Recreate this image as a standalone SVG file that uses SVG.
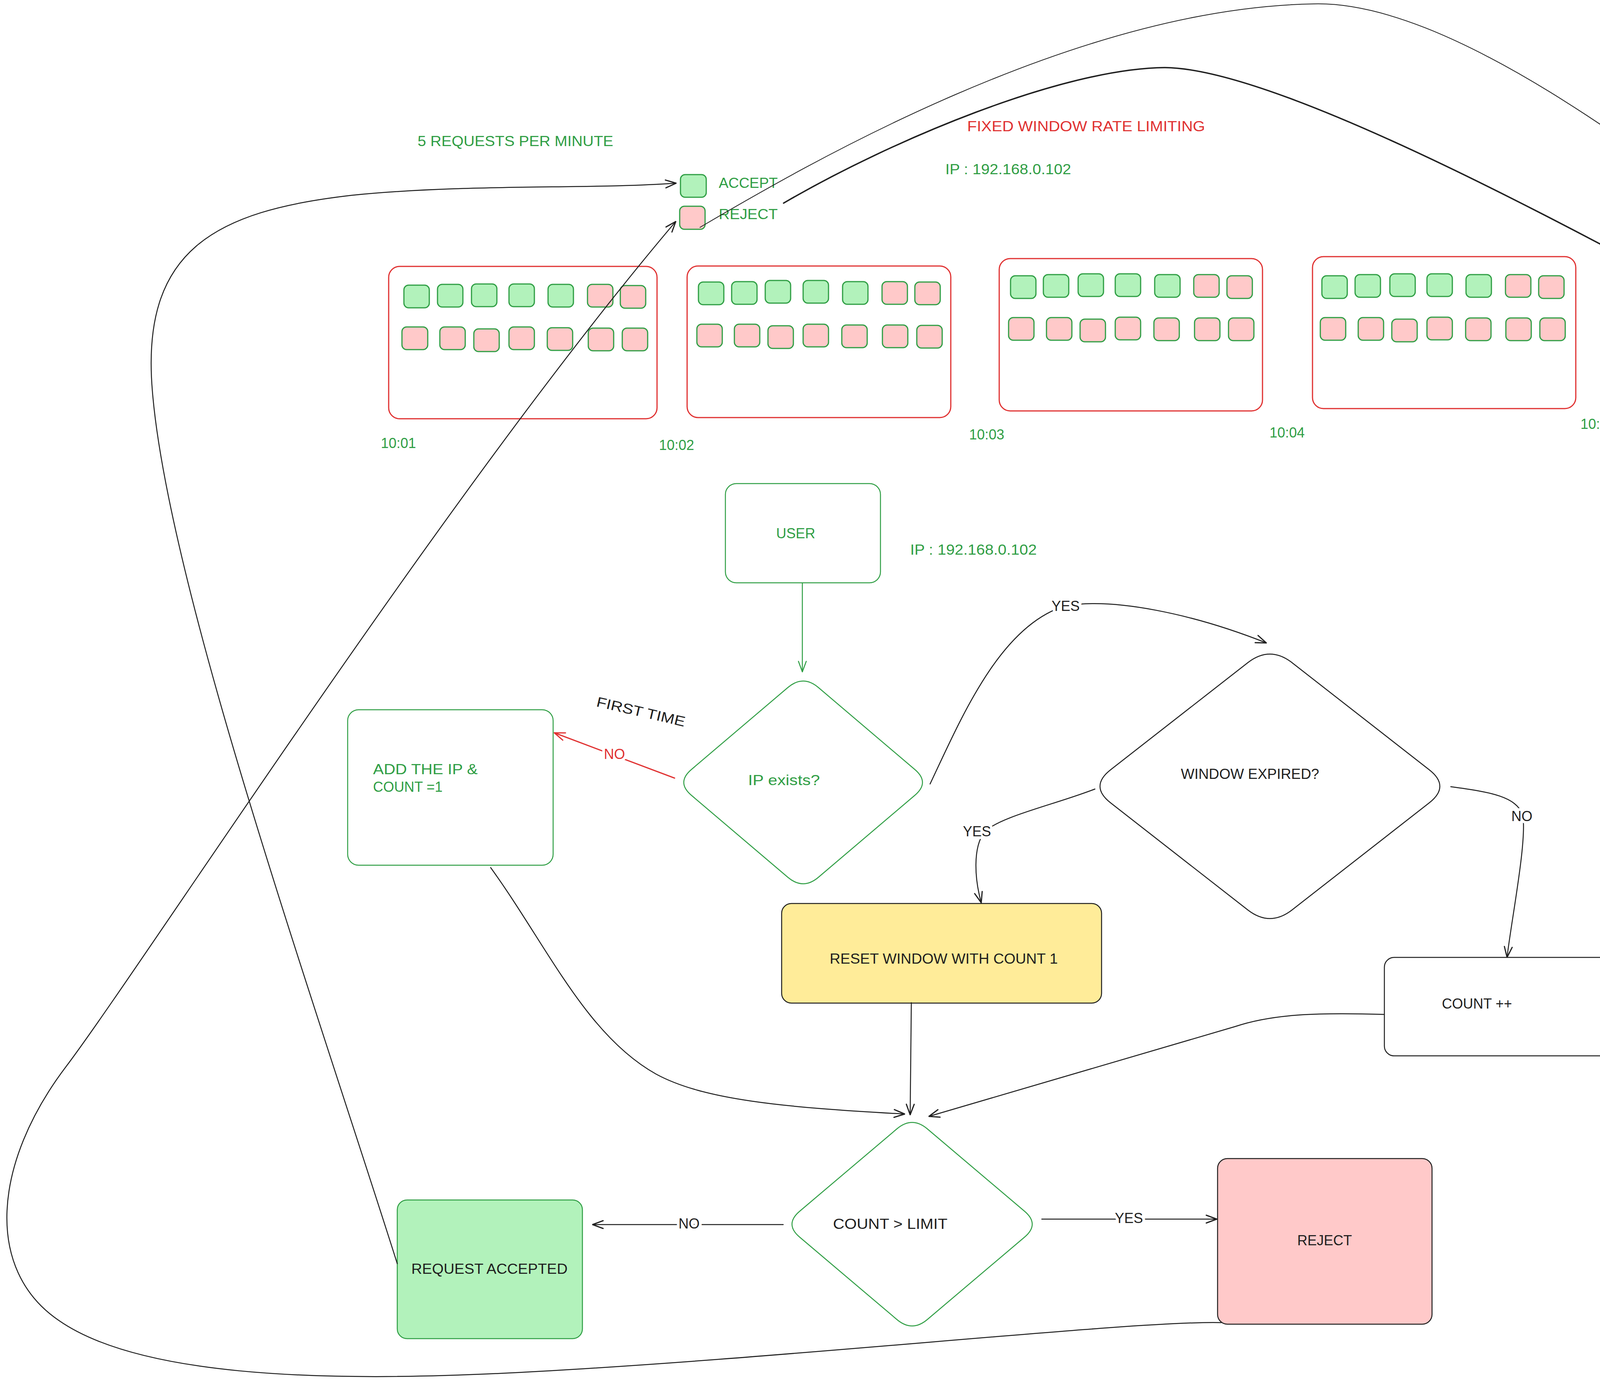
<svg xmlns="http://www.w3.org/2000/svg" width="4975" height="3538" viewBox="0 0 4975 3538">
<defs>
<style>
.t{font-family:"Liberation Sans",Arial,sans-serif;font-size:36px}
.tg{fill:#2f9e44}
.tr{fill:#e03131}
.tk{fill:#1e1e1e}
.sq{stroke:#2f9e44;stroke-width:3}
.ok{fill:#b2f2bb}
.no{fill:#ffc9c9}
.win{fill:none;stroke:#e03131;stroke-width:3}
.gbox{fill:#ffffff;stroke:#2f9e44;stroke-width:2.5}
.kbox{stroke:#1e1e1e;stroke-width:2.5}
.c{fill:none;stroke:#1e1e1e;stroke-width:2.5;stroke-linecap:round}
.lbl{stroke:#ffffff;stroke-width:14px;paint-order:stroke;stroke-linejoin:round}
</style>
<marker id="ak" viewBox="0 0 30 24" refX="29" refY="12" markerWidth="30" markerHeight="24" markerUnits="userSpaceOnUse" orient="auto"><path d="M2,2 L29,12 L2,22" fill="none" stroke="#1e1e1e" stroke-width="3" stroke-linecap="round" stroke-linejoin="round"/></marker>
<marker id="ag" viewBox="0 0 30 24" refX="29" refY="12" markerWidth="30" markerHeight="24" markerUnits="userSpaceOnUse" orient="auto"><path d="M2,2 L29,12 L2,22" fill="none" stroke="#2f9e44" stroke-width="2.5" stroke-linecap="round" stroke-linejoin="round"/></marker>
<marker id="ar" viewBox="0 0 30 24" refX="29" refY="12" markerWidth="30" markerHeight="24" markerUnits="userSpaceOnUse" orient="auto"><path d="M2,2 L29,12 L2,22" fill="none" stroke="#e03131" stroke-width="3" stroke-linecap="round" stroke-linejoin="round"/></marker>
</defs>
<rect width="4975" height="3538" fill="#ffffff"/>

<g id="titles">
<text class="t tr" x="2476" y="336" font-size="35" textLength="609" lengthAdjust="spacingAndGlyphs">FIXED WINDOW RATE LIMITING</text>
<text class="t tg" x="1069" y="374" textLength="501" lengthAdjust="spacingAndGlyphs">5 REQUESTS PER MINUTE</text>
<text class="t tg" x="2420" y="446" textLength="322" lengthAdjust="spacingAndGlyphs">IP : 192.168.0.102</text>
</g>

<g id="legend">
<rect class="sq ok" x="1742" y="447" width="66" height="58" rx="12"/>
<text class="t tg" x="1840" y="481" textLength="151" lengthAdjust="spacingAndGlyphs">ACCEPT</text>
<rect class="sq no" x="1740" y="528" width="65" height="59" rx="12"/>
<text class="t tg" x="1840" y="561" textLength="151" lengthAdjust="spacingAndGlyphs">REJECT</text>
</g>

<g id="window-1001">
<rect class="win" x="995" y="682" width="687" height="390" rx="28"/>
<rect class="sq ok" x="1034" y="730" width="65" height="58" rx="12"/>
<rect class="sq ok" x="1120" y="728" width="65" height="58" rx="12"/>
<rect class="sq ok" x="1207" y="727" width="65" height="58" rx="12"/>
<rect class="sq ok" x="1303" y="727" width="65" height="58" rx="12"/>
<rect class="sq ok" x="1403" y="728" width="65" height="58" rx="12"/>
<rect class="sq no" x="1504" y="728" width="65" height="58" rx="12"/>
<rect class="sq no" x="1588" y="731" width="65" height="58" rx="12"/>
<rect class="sq no" x="1029" y="837" width="66" height="58" rx="12"/>
<rect class="sq no" x="1126" y="837" width="65" height="58" rx="12"/>
<rect class="sq no" x="1213" y="842" width="65" height="58" rx="12"/>
<rect class="sq no" x="1303" y="837" width="65" height="58" rx="12"/>
<rect class="sq no" x="1401" y="839" width="65" height="58" rx="12"/>
<rect class="sq no" x="1506" y="840" width="65" height="58" rx="12"/>
<rect class="sq no" x="1593" y="840" width="65" height="58" rx="12"/>
<text class="t tg" x="975" y="1147" font-size="38">10:01</text>
</g>

<g id="window-1002">
<rect class="win" x="1759" y="681" width="675" height="388" rx="28"/>
<rect class="sq ok" x="1788" y="722" width="65" height="58" rx="12"/>
<rect class="sq ok" x="1873" y="721" width="65" height="58" rx="12"/>
<rect class="sq ok" x="1959" y="718" width="65" height="58" rx="12"/>
<rect class="sq ok" x="2056" y="718" width="65" height="58" rx="12"/>
<rect class="sq ok" x="2157" y="721" width="65" height="58" rx="12"/>
<rect class="sq no" x="2258" y="721" width="65" height="58" rx="12"/>
<rect class="sq no" x="2342" y="722" width="65" height="58" rx="12"/>
<rect class="sq no" x="1784" y="830" width="65" height="58" rx="12"/>
<rect class="sq no" x="1880" y="830" width="65" height="58" rx="12"/>
<rect class="sq no" x="1966" y="834" width="65" height="58" rx="12"/>
<rect class="sq no" x="2056" y="830" width="65" height="58" rx="12"/>
<rect class="sq no" x="2155" y="832" width="65" height="58" rx="12"/>
<rect class="sq no" x="2259" y="832" width="65" height="58" rx="12"/>
<rect class="sq no" x="2347" y="833" width="65" height="58" rx="12"/>
<text class="t tg" x="1687" y="1152" font-size="38">10:02</text>
</g>

<g id="window-1003">
<rect class="win" x="2558" y="662" width="674" height="390" rx="28"/>
<rect class="sq ok" x="2587" y="706" width="65" height="58" rx="12"/>
<rect class="sq ok" x="2671" y="703" width="65" height="58" rx="12"/>
<rect class="sq ok" x="2760" y="701" width="65" height="58" rx="12"/>
<rect class="sq ok" x="2855" y="701" width="65" height="58" rx="12"/>
<rect class="sq ok" x="2956" y="703" width="65" height="58" rx="12"/>
<rect class="sq no" x="3056" y="703" width="65" height="58" rx="12"/>
<rect class="sq no" x="3141" y="706" width="65" height="58" rx="12"/>
<rect class="sq no" x="2582" y="813" width="65" height="58" rx="12"/>
<rect class="sq no" x="2679" y="813" width="65" height="58" rx="12"/>
<rect class="sq no" x="2765" y="817" width="65" height="58" rx="12"/>
<rect class="sq no" x="2855" y="812" width="65" height="58" rx="12"/>
<rect class="sq no" x="2954" y="814" width="65" height="58" rx="12"/>
<rect class="sq no" x="3058" y="814" width="65" height="58" rx="12"/>
<rect class="sq no" x="3145" y="814" width="65" height="58" rx="12"/>
<text class="t tg" x="2481" y="1125" font-size="38">10:03</text>
</g>

<g id="window-1004">
<rect class="win" x="3360" y="657" width="674" height="389" rx="28"/>
<rect class="sq ok" x="3384" y="706" width="65" height="58" rx="12"/>
<rect class="sq ok" x="3469" y="703" width="65" height="58" rx="12"/>
<rect class="sq ok" x="3558" y="701" width="65" height="58" rx="12"/>
<rect class="sq ok" x="3653" y="701" width="65" height="58" rx="12"/>
<rect class="sq ok" x="3753" y="703" width="65" height="58" rx="12"/>
<rect class="sq no" x="3854" y="703" width="65" height="58" rx="12"/>
<rect class="sq no" x="3939" y="706" width="65" height="58" rx="12"/>
<rect class="sq no" x="3380" y="813" width="65" height="58" rx="12"/>
<rect class="sq no" x="3477" y="813" width="65" height="58" rx="12"/>
<rect class="sq no" x="3563" y="817" width="65" height="58" rx="12"/>
<rect class="sq no" x="3653" y="812" width="65" height="58" rx="12"/>
<rect class="sq no" x="3752" y="814" width="65" height="58" rx="12"/>
<rect class="sq no" x="3855" y="814" width="65" height="58" rx="12"/>
<rect class="sq no" x="3942" y="814" width="65" height="58" rx="12"/>
<text class="t tg" x="3250" y="1120" font-size="38">10:04</text>
</g>

<g id="window-1005">
<rect class="win" x="4185" y="658" width="681" height="389" rx="28"/>
<rect class="sq ok" x="4210" y="726" width="67" height="58" rx="12"/>
<rect class="sq ok" x="4296" y="724" width="67" height="58" rx="12"/>
<rect class="sq ok" x="4386" y="721" width="67" height="58" rx="12"/>
<rect class="sq ok" x="4483" y="721" width="67" height="58" rx="12"/>
<rect class="sq ok" x="4585" y="723" width="67" height="58" rx="12"/>
<rect class="sq no" x="4686" y="723" width="67" height="58" rx="12"/>
<text class="t tg" x="4046" y="1098" font-size="38">10:05</text>
<text class="t tg" x="4872" y="1100" font-size="38">10:06</text>
</g>

<g id="user">
<rect class="gbox" x="1857" y="1238" width="397" height="254" rx="28"/>
<text class="t tg" x="2037" y="1378" text-anchor="middle">USER</text>
</g>
<text id="user-ip" class="t tg" x="2330" y="1420" textLength="324" lengthAdjust="spacingAndGlyphs">IP : 192.168.0.102</text>

<g id="ip-exists">
<path class="gbox" d="M2095,1760 L2342,1970 Q2381,2003 2342,2036 L2095,2246 Q2056,2279 2017,2246 L1770,2036 Q1731,2003 1770,1970 L2017,1760 Q2056,1727 2095,1760 Z"/>
<text class="t tg" x="2007" y="2010" text-anchor="middle" font-size="38" textLength="184" lengthAdjust="spacingAndGlyphs">IP exists?</text>
</g>

<g id="add-ip">
<rect class="gbox" x="890" y="1817" width="526" height="398" rx="28"/>
<text class="t tg" x="955" y="1982" font-size="38" textLength="268" lengthAdjust="spacingAndGlyphs">ADD THE IP &amp;</text>
<text class="t tg" x="955" y="2027" font-size="38" textLength="178" lengthAdjust="spacingAndGlyphs">COUNT =1</text>
</g>

<g id="window-expired">
<path class="kbox" fill="#ffffff" d="M3307,1696 L3658,1970 Q3714,2013 3658,2056 L3307,2330 Q3251,2373 3195,2330 L2844,2056 Q2788,2013 2844,1970 L3195,1696 Q3251,1653 3307,1696 Z"/>
<text class="t tk" x="3200" y="1994" text-anchor="middle" textLength="354" lengthAdjust="spacingAndGlyphs">WINDOW EXPIRED?</text>
</g>

<g id="reset-window">
<rect class="kbox" fill="#ffec99" x="2001" y="2313" width="819" height="255" rx="25"/>
<text class="t tk" x="2416" y="2467" text-anchor="middle" textLength="584" lengthAdjust="spacingAndGlyphs">RESET WINDOW WITH COUNT 1</text>
</g>

<g id="count-inc">
<rect class="kbox" fill="#ffffff" x="3544" y="2451" width="587" height="252" rx="25"/>
<text class="t tk" x="3781" y="2582" text-anchor="middle">COUNT ++</text>
</g>

<g id="count-limit">
<path class="gbox" d="M2374,2890 L2623,3101 Q2662,3134 2623,3167 L2374,3378 Q2335,3411 2296,3378 L2047,3167 Q2008,3134 2047,3101 L2296,2890 Q2335,2857 2374,2890 Z"/>
<text class="t tk" x="2279" y="3146" text-anchor="middle" textLength="293" lengthAdjust="spacingAndGlyphs">COUNT &gt; LIMIT</text>
</g>

<g id="reject">
<rect class="kbox" fill="#ffc9c9" x="3117" y="2966" width="549" height="424" rx="25"/>
<text class="t tk" x="3391" y="3188" text-anchor="middle">REJECT</text>
</g>

<g id="request-accepted">
<rect fill="#b2f2bb" stroke="#2f9e44" stroke-width="2.5" x="1017" y="3072" width="474" height="355" rx="25"/>
<text class="t tk" x="1253" y="3261" text-anchor="middle" textLength="400" lengthAdjust="spacingAndGlyphs">REQUEST ACCEPTED</text>
</g>

<g id="first-time">
<text class="t tk" x="1525" y="1808" font-size="40" transform="rotate(13 1525 1808)" textLength="232" lengthAdjust="spacingAndGlyphs">FIRST TIME</text>
</g>

<g id="connectors">
<path class="c" style="stroke:#2f9e44" d="M2054,1493 L2054,1720" marker-end="url(#ag)"/>
<path class="c" style="stroke:#e03131;stroke-width:3" d="M1727,1992 L1419,1876" marker-end="url(#ar)"/>
<path class="c" d="M2381,2007 C2460,1840 2560,1600 2728,1551 C2850,1530 3050,1570 3242,1646" marker-end="url(#ak)"/>
<path class="c" d="M2803,2020 C2700,2060 2560,2090 2520,2130 C2490,2170 2495,2250 2512,2311" marker-end="url(#ak)"/>
<path class="c" d="M3714,2014 C3820,2028 3880,2040 3898,2085 C3910,2150 3870,2350 3858,2451" marker-end="url(#ak)"/>
<path class="c" d="M2333,2567 L2330,2854" marker-end="url(#ak)"/>
<path class="c" d="M3542,2597 C3380,2592 3260,2595 3162,2628 L2378,2858" marker-end="url(#ak)"/>
<path class="c" d="M1256,2221 C1400,2420 1500,2650 1680,2750 C1800,2815 2000,2835 2316,2852" marker-end="url(#ak)"/>
<path class="c" d="M2005,3135 L1517,3135" marker-end="url(#ak)"/>
<path class="c" d="M2667,3121 L3115,3121" marker-end="url(#ak)"/>
<path class="c" d="M1017,3235 C800,2550 430,1500 390,1000 C360,640 550,540 900,500 C1200,470 1500,485 1731,469" marker-end="url(#ak)"/>
<path class="c" d="M3126,3386 C2900,3380 2000,3480 1300,3515 C800,3540 350,3520 150,3380 C-40,3250 -18,2978 168,2732 C368,2467 1150,1250 1730,567" marker-end="url(#ak)"/>
<path class="c" style="stroke-width:2" d="M1792,582 C2050,430 2750,20 3363,10 C3750,0 4350,500 4710,773" marker-end="url(#ak)"/>
<path class="c" style="stroke-width:3.5" d="M2006,520 C2280,360 2720,175 2982,173 C3250,175 3900,520 4258,710" marker-end="url(#ak)"/>
<text class="t tr lbl" x="1573" y="1943" text-anchor="middle" font-size="34">NO</text>
<text class="t tk lbl" x="2728" y="1564" text-anchor="middle">YES</text>
<text class="t tk lbl" x="2501" y="2141" text-anchor="middle">YES</text>
<text class="t tk lbl" x="3896" y="2102" text-anchor="middle">NO</text>
<text class="t tk lbl" x="1764" y="3145" text-anchor="middle">NO</text>
<text class="t tk lbl" x="2890" y="3131" text-anchor="middle">YES</text>
</g>
</svg>
